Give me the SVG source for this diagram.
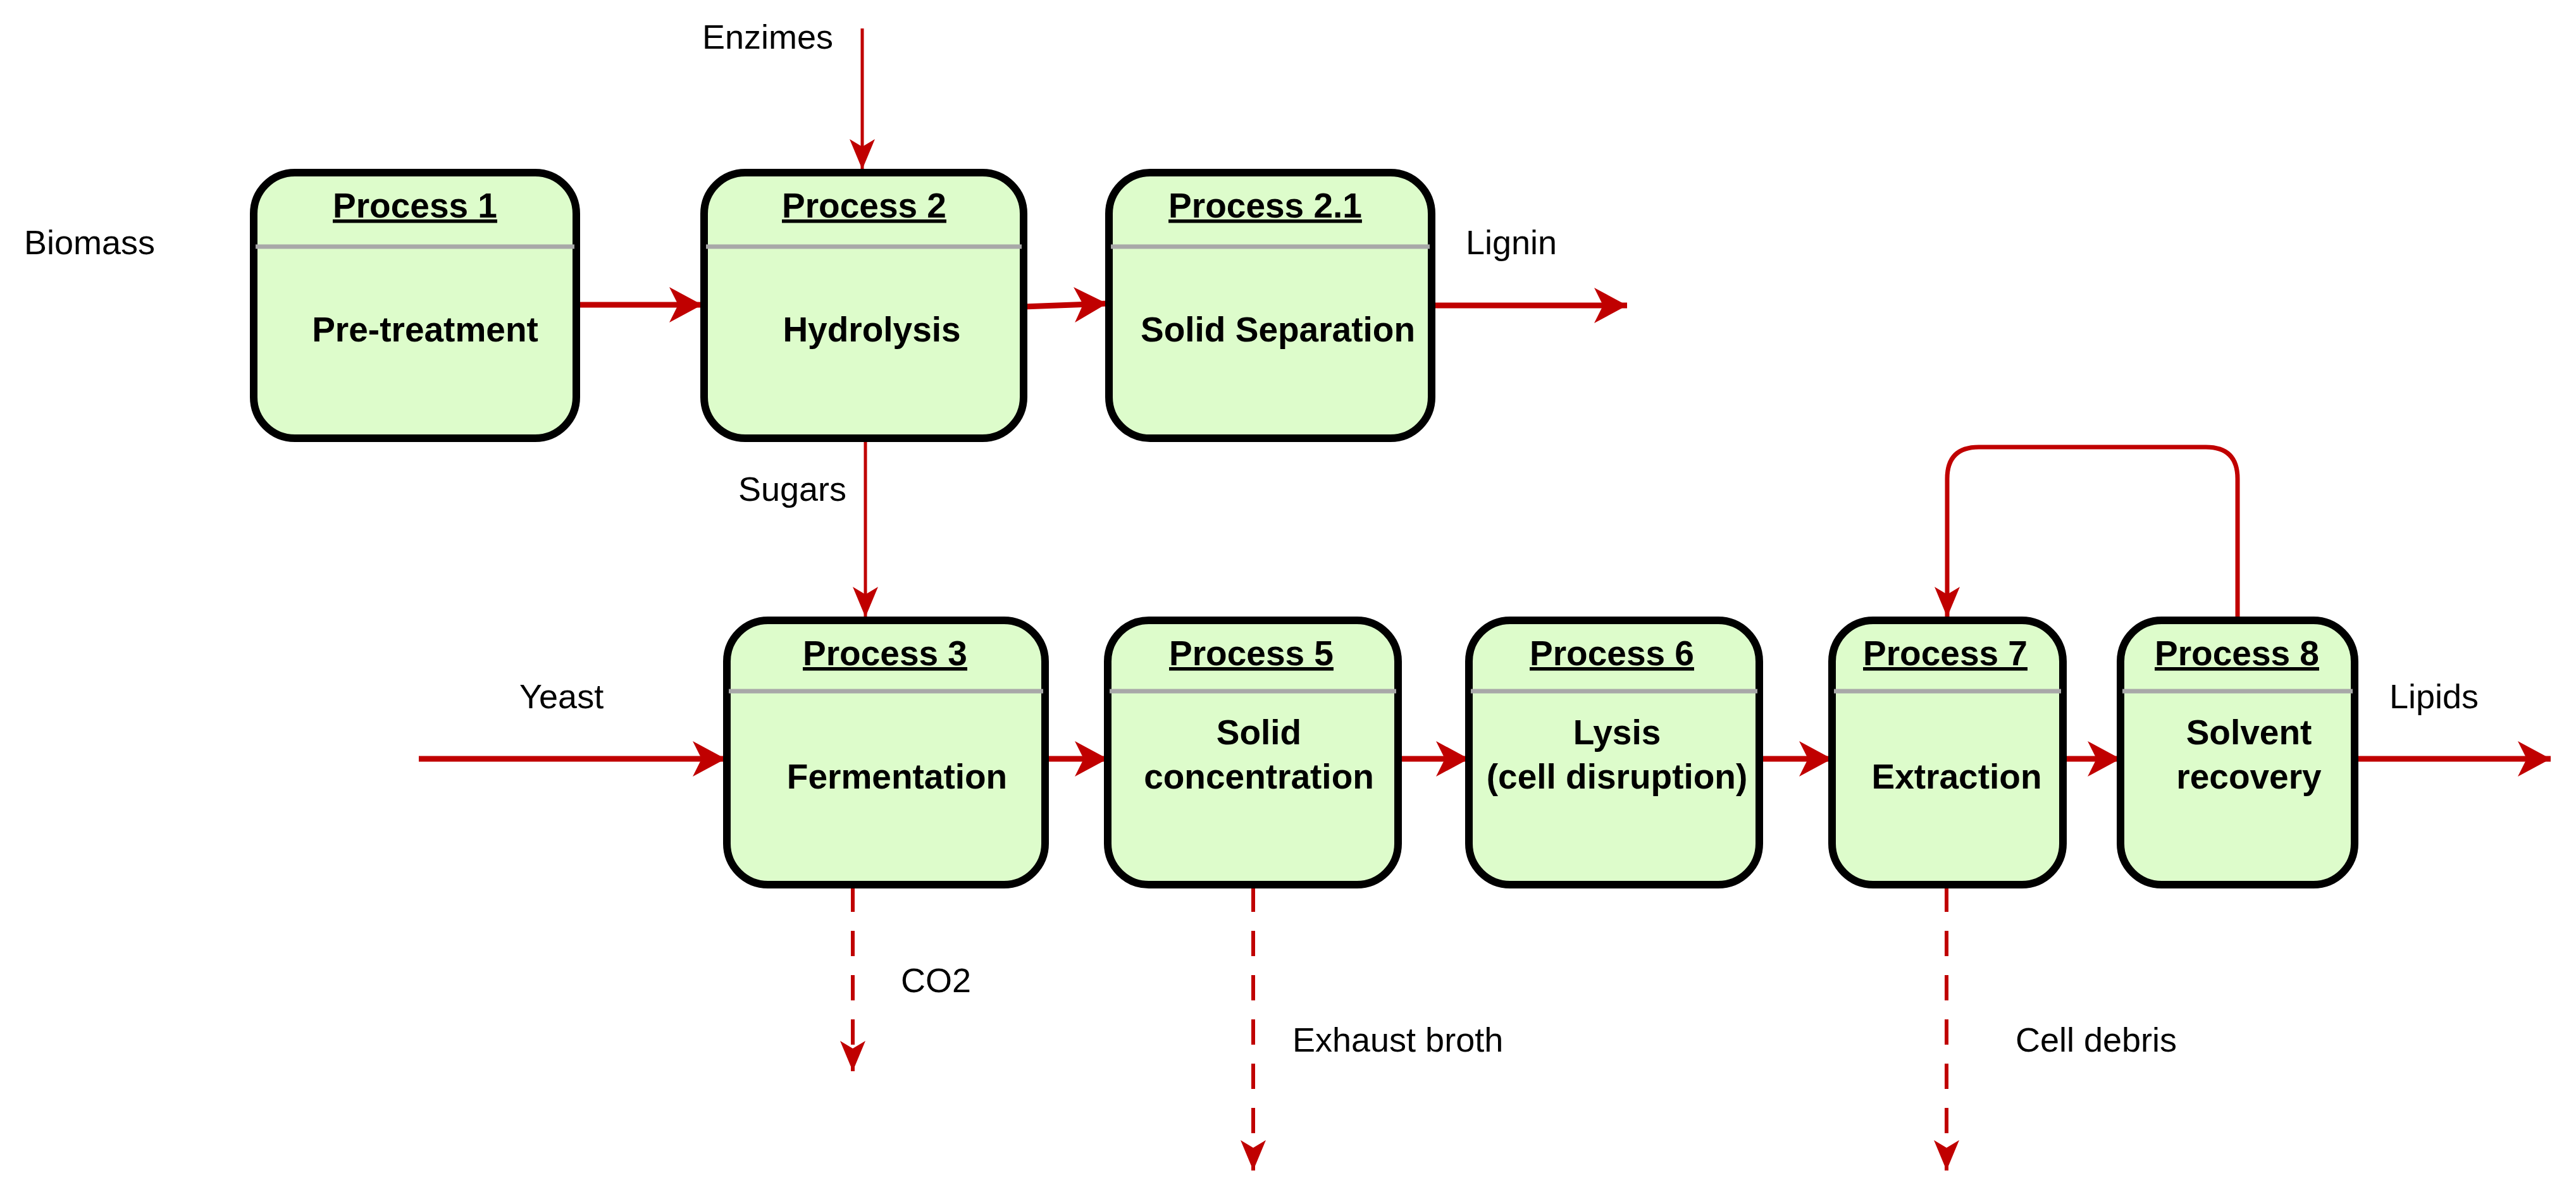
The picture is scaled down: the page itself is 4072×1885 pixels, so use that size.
<svg xmlns="http://www.w3.org/2000/svg" width="4072" height="1885" viewBox="0 0 4072 1885">
<style>
.box{fill:#ddfccb;stroke:#000;stroke-width:12}
.hdr{stroke:#a8a8a8;stroke-width:7}
.t{font-family:"Liberation Sans",Arial,sans-serif;font-size:55px;font-weight:bold;text-anchor:middle;fill:#000}
.u{text-decoration:underline}
.l{font-family:"Liberation Sans",Arial,sans-serif;font-size:54px;fill:#000}
.a{stroke:#c00000;stroke-width:9;fill:none}
.th{stroke:#c00000;stroke-width:5;fill:none}
.d{stroke:#c00000;stroke-width:6;fill:none;stroke-dasharray:40 30}
</style>
<defs>
<marker id="big" markerUnits="userSpaceOnUse" markerWidth="60" markerHeight="60" viewBox="-52 -30 56 60" refX="0" refY="0" orient="auto"><path d="M0,0 L-52,-28 L-38,0 L-52,28Z" fill="#c00000"/></marker>
<marker id="sm" markerUnits="userSpaceOnUse" markerWidth="60" markerHeight="60" viewBox="-52 -30 56 60" refX="0" refY="0" orient="auto"><path d="M0,0 L-48,-20 L-36,0 L-48,20Z" fill="#c00000"/></marker>
</defs>
<rect width="4072" height="1885" fill="#fff"/>
<g id="connectors">
<line class="th" x1="1363" y1="45" x2="1363" y2="268" marker-end="url(#sm)"/>
<line class="a" x1="911" y1="482" x2="1110" y2="482" marker-end="url(#big)"/>
<line class="a" x1="1618" y1="485" x2="1750" y2="480" marker-end="url(#big)"/>
<line class="a" x1="2263" y1="483" x2="2572" y2="483" marker-end="url(#big)"/>
<line class="th" x1="1368" y1="696" x2="1368" y2="976" marker-end="url(#sm)"/>
<line class="a" x1="662" y1="1200" x2="1147" y2="1200" marker-end="url(#big)"/>
<line class="a" x1="1652" y1="1200" x2="1751" y2="1200" marker-end="url(#big)"/>
<line class="a" x1="2210" y1="1200" x2="2322" y2="1200" marker-end="url(#big)"/>
<line class="a" x1="2781" y1="1200" x2="2896" y2="1200" marker-end="url(#big)"/>
<line class="a" x1="3261" y1="1200" x2="3352" y2="1200" marker-end="url(#big)"/>
<line class="a" x1="3722" y1="1200" x2="4032" y2="1200" marker-end="url(#big)"/>
<path class="th" style="stroke-width:7" d="M3537,978 L3537,757 Q3537,707 3487,707 L3128,707 Q3078,707 3078,757 L3078,976" marker-end="url(#sm)"/>
<line class="d" x1="1348" y1="1402" x2="1348" y2="1694" marker-end="url(#sm)"/>
<line class="d" x1="1981" y1="1402" x2="1981" y2="1851" marker-end="url(#sm)"/>
<line class="d" x1="3077" y1="1402" x2="3077" y2="1851" marker-end="url(#sm)"/>
</g>
<g id="p1"><rect class="box" x="401" y="273" width="510" height="420" rx="65"/><line class="hdr" x1="404" y1="390" x2="908" y2="390"/><text class="t u" x="656" y="344">Process 1</text><text class="t" x="672" y="540">Pre-treatment</text></g>
<g id="p2"><rect class="box" x="1113" y="273" width="505" height="420" rx="65"/><line class="hdr" x1="1116" y1="390" x2="1615" y2="390"/><text class="t u" x="1366" y="344">Process 2</text><text class="t" x="1378" y="540">Hydrolysis</text></g>
<g id="p21"><rect class="box" x="1753" y="273" width="510" height="420" rx="65"/><line class="hdr" x1="1756" y1="390" x2="2260" y2="390"/><text class="t u" x="2000" y="344">Process 2.1</text><text class="t" x="2020" y="540">Solid Separation</text></g>
<g id="p3"><rect class="box" x="1149" y="981" width="503" height="418" rx="65"/><line class="hdr" x1="1152" y1="1093" x2="1649" y2="1093"/><text class="t u" x="1399" y="1052">Process 3</text><text class="t" x="1418" y="1247">Fermentation</text></g>
<g id="p5"><rect class="box" x="1751" y="981" width="459" height="418" rx="65"/><line class="hdr" x1="1754" y1="1093" x2="2207" y2="1093"/><text class="t u" x="1978" y="1052">Process 5</text><text class="t" x="1990" y="1177">Solid</text><text class="t" x="1990" y="1247">concentration</text></g>
<g id="p6"><rect class="box" x="2322" y="981" width="459" height="418" rx="65"/><line class="hdr" x1="2325" y1="1093" x2="2778" y2="1093"/><text class="t u" x="2548" y="1052">Process 6</text><text class="t" x="2556" y="1177">Lysis</text><text class="t" x="2556" y="1247">(cell disruption)</text></g>
<g id="p7"><rect class="box" x="2896" y="981" width="365" height="418" rx="65"/><line class="hdr" x1="2899" y1="1093" x2="3258" y2="1093"/><text class="t u" x="3075" y="1052">Process 7</text><text class="t" x="3093" y="1247">Extraction</text></g>
<g id="p8"><rect class="box" x="3352" y="981" width="370" height="418" rx="65"/><line class="hdr" x1="3355" y1="1093" x2="3719" y2="1093"/><text class="t u" x="3536" y="1052">Process 8</text><text class="t" x="3555" y="1177">Solvent</text><text class="t" x="3555" y="1247">recovery</text></g>
<g id="labels">
<text class="l" x="1110" y="77">Enzimes</text>
<text class="l" x="38" y="402">Biomass</text>
<text class="l" x="2317" y="402">Lignin</text>
<text class="l" x="1167" y="792">Sugars</text>
<text class="l" x="821" y="1120">Yeast</text>
<text class="l" x="3777" y="1120">Lipids</text>
<text class="l" x="1424" y="1569">CO2</text>
<text class="l" x="2043" y="1663">Exhaust broth</text>
<text class="l" x="3186" y="1663">Cell debris</text>
</g>
</svg>
